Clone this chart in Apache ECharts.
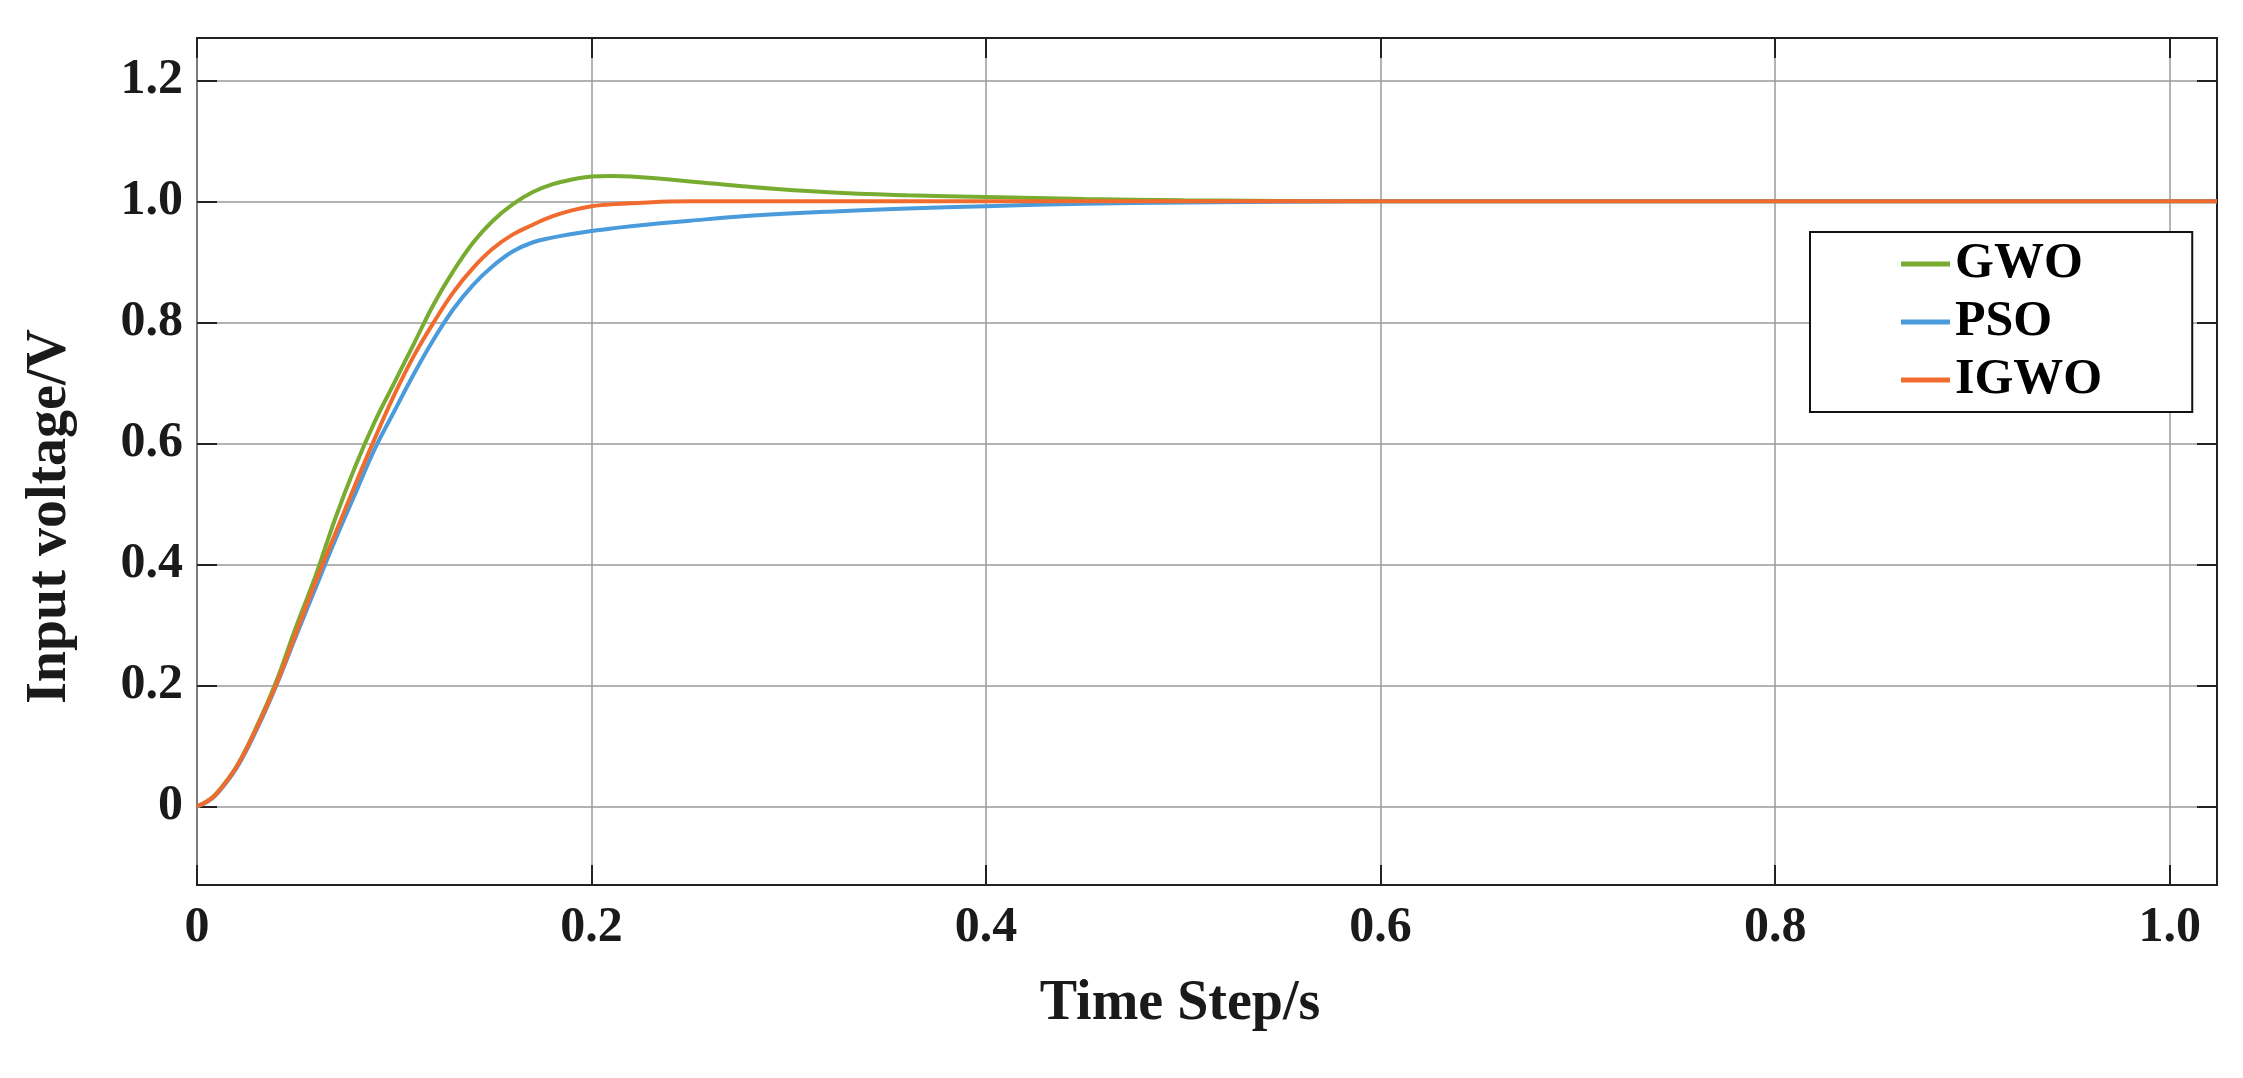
<!DOCTYPE html>
<html>
<head>
<meta charset="utf-8">
<script src="https://cdn.jsdelivr.net/npm/echarts@6/dist/echarts.min.js"></script>
<style>
  html, body { margin: 0; padding: 0; background: #fff; }
  #main { width: 2243px; height: 1078px; }
</style>
</head>
<body>
<div id="main"></div>
<script>
// time points (s)
const timeSteps = [0, 0.005, 0.01, 0.02, 0.03, 0.04, 0.05, 0.06, 0.07, 0.08, 0.09, 0.10,
  0.11, 0.12, 0.13, 0.14, 0.15, 0.16, 0.17, 0.18, 0.19, 0.20, 0.21, 0.22, 0.25, 0.28,
  0.32, 0.36, 0.40, 0.45, 0.50, 0.60, 0.80, 1.024];

const gwo = [0, 0.008, 0.022, 0.066, 0.13, 0.205, 0.295, 0.38, 0.475, 0.56, 0.635, 0.70,
  0.765, 0.83, 0.885, 0.932, 0.968, 0.995, 1.015, 1.028, 1.036, 1.041, 1.042, 1.041, 1.033, 1.024,
  1.015, 1.010, 1.007, 1.004, 1.002, 1.0, 1.0, 1.0];

const pso = [0, 0.007, 0.02, 0.063, 0.125, 0.198, 0.28, 0.36, 0.44, 0.515, 0.59, 0.653,
  0.715, 0.772, 0.822, 0.862, 0.893, 0.917, 0.932, 0.940, 0.946, 0.951, 0.955, 0.959, 0.968, 0.976,
  0.983, 0.988, 0.992, 0.996, 0.998, 1.0, 1.0, 1.0];

const igwo = [0, 0.008, 0.021, 0.065, 0.128, 0.2, 0.285, 0.37, 0.45, 0.53, 0.607, 0.68,
  0.745, 0.80, 0.85, 0.89, 0.922, 0.945, 0.961, 0.975, 0.985, 0.992, 0.995, 0.997, 1.0, 1.0,
  1.0, 1.0, 1.0, 1.0, 1.0, 1.0, 1.0, 1.0];

const yTicks = [0, 0.2, 0.4, 0.6, 0.8, 1.0, 1.2];
const xTicks = [0, 0.2, 0.4, 0.6, 0.8, 1.0];

const seriesNames = ['GWO', 'PSO', 'IGWO'];
const seriesColors = ['#77AC30', '#4A9BDC', '#F26B2E'];

const font = 'Liberation Serif, Times New Roman, serif';

function pairs(ys) {
  return timeSteps.map((t, i) => [t, ys[i]]);
}

const chart = echarts.init(document.getElementById('main'));

const tickLabel = {
  fontFamily: font,
  fontWeight: 'bold',
  fontSize: 50,
  color: '#1a1a1a'
};
const tickStyle = { show: true, inside: true, length: 20, lineStyle: { color: '#222', width: 2 } };

chart.setOption({
  animation: false,
  backgroundColor: '#fff',
  grid: {
    left: 197, right: 26, top: 38, bottom: 193,
    show: true, borderColor: '#222', borderWidth: 2, backgroundColor: 'transparent'
  },
  legend: {
    orient: 'vertical',
    left: 1810, top: 232,
    padding: [7, 90, 7, 91],
    itemGap: 8,
    icon: 'rect',
    itemWidth: 49,
    itemHeight: 5,
    borderColor: '#111',
    borderWidth: 2,
    backgroundColor: '#fff',
    textStyle: { fontFamily: font, fontWeight: 'bold', fontSize: 50, color: '#000' },
    data: seriesNames
  },
  xAxis: [{
    type: 'value',
    min: 0, max: 1.024,
    name: 'Time Step/s',
    nameLocation: 'middle',
    nameGap: 92,
    nameTextStyle: { fontFamily: font, fontWeight: 'bold', fontSize: 56, color: '#1a1a1a', padding: [0, 54, 0, 0] },
    axisLine: { show: false, onZero: false },
    axisTick: Object.assign({ customValues: xTicks }, tickStyle),
    axisLabel: Object.assign({ margin: 18, customValues: xTicks, formatter: v => v === 0 ? '0' : v.toFixed(1) }, tickLabel),
    splitLine: { show: true, lineStyle: { color: '#9a9a9a', width: 1.5 } }
  }, {
    type: 'value', position: 'top',
    min: 0, max: 1.024,
    axisLine: { show: false, onZero: false },
    axisTick: Object.assign({ customValues: xTicks }, tickStyle),
    axisLabel: { show: false },
    splitLine: { show: false }
  }],
  yAxis: [{
    type: 'value',
    min: -0.13, max: 1.27,
    name: 'Input voltage/V',
    nameLocation: 'middle',
    nameGap: 118,
    nameTextStyle: { fontFamily: font, fontWeight: 'bold', fontSize: 56, color: '#1a1a1a', padding: [0, 110, 0, 0] },
    axisLine: { show: false, onZero: false },
    axisTick: Object.assign({ customValues: yTicks }, tickStyle),
    axisLabel: Object.assign({ margin: 14, customValues: yTicks, formatter: v => v === 0 ? '0' : v.toFixed(1) }, tickLabel),
    splitLine: { show: true, lineStyle: { color: '#9a9a9a', width: 1.5 } }
  }, {
    type: 'value', position: 'right',
    min: -0.13, max: 1.27,
    axisLine: { show: false, onZero: false },
    axisTick: Object.assign({ customValues: yTicks }, tickStyle),
    axisLabel: { show: false },
    splitLine: { show: false }
  }],
  series: [
    { name: 'GWO', data: pairs(gwo) },
    { name: 'PSO', data: pairs(pso) },
    { name: 'IGWO', data: pairs(igwo) }
  ].map((s, i) => Object.assign({
    type: 'line',
    symbol: 'none',
    smooth: 0.4,
    lineStyle: { width: 4, color: seriesColors[i] },
    itemStyle: { color: seriesColors[i] }
  }, s))
});
</script>
</body>
</html>
